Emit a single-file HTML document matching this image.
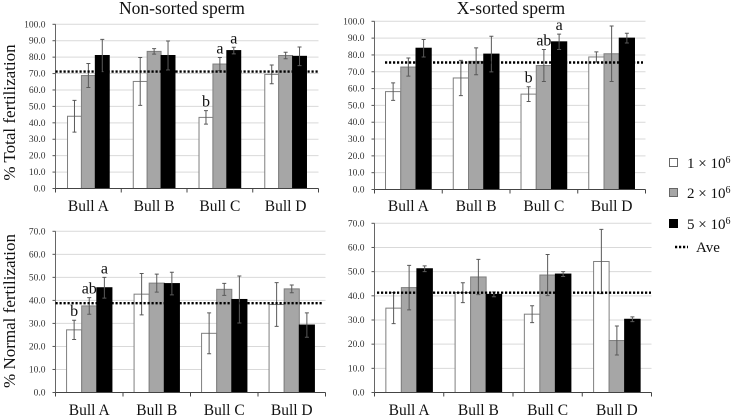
<!DOCTYPE html>
<html lang="en">
<head>
<meta charset="utf-8">
<title>Fertilization charts</title>
<style>
html,body{margin:0;padding:0;background:#fff;width:732px;height:417px;overflow:hidden}
svg{display:block;font-family:"Liberation Serif",serif}
</style>
</head>
<body>
<svg id="chart" width="732" height="417" viewBox="0 0 732 417" xmlns="http://www.w3.org/2000/svg">
  <text x="182" y="14" font-size="17.5" text-anchor="middle" fill="#111">Non-sorted sperm</text>
  <text x="511" y="14" font-size="17.5" text-anchor="middle" fill="#111">X-sorted sperm</text>
  <text transform="translate(15,112.5) rotate(-90)" font-size="17" text-anchor="middle" fill="#111">% Total fertilization</text>
  <text transform="translate(15,311) rotate(-90)" font-size="17" text-anchor="middle" fill="#111">% Normal fertilization</text>

  <g font-size="15" fill="#111">
    <g>
      <rect x="669.5" y="158.5" width="8" height="8" fill="#fff" stroke="#666"/>
      <text x="687" y="168">1 × 10<tspan dy="-5" font-size="10">6</tspan></text>
    </g>
    <g>
      <rect x="669.5" y="188.5" width="8" height="8" fill="#a6a6a6" stroke="#666"/>
      <text x="687" y="198">2 × 10<tspan dy="-5" font-size="10">6</tspan></text>
    </g>
    <g>
      <rect x="669.5" y="219.5" width="8" height="8" fill="#000" stroke="#000"/>
      <text x="687" y="229">5 × 10<tspan dy="-5" font-size="10">6</tspan></text>
    </g>
    <g>
      <line x1="675" y1="247" x2="688" y2="247" stroke="#000" stroke-width="2.4" stroke-dasharray="2.2 1.8"/>
      <text x="696" y="252">Ave</text>
    </g>
  </g>
</svg>
<script>
const categories = ['Bull A', 'Bull B', 'Bull C', 'Bull D'];
const seriesNames = ['1e6', '2e6', '5e6'];
const totalTicks = ['0.0', '10.0', '20.0', '30.0', '40.0', '50.0', '60.0', '70.0', '80.0', '90.0', '100.0'];
const normalTicks = ['0.0', '10.0', '20.0', '30.0', '40.0', '50.0', '60.0', '70.0'];

const nonSortedTotal1 = [44, 65.2, 43.3, 69.5];
const nonSortedTotal2 = [68.8, 83.5, 75.8, 81];
const nonSortedTotal5 = [81, 81, 84, 80.5];
const nonSortedTotalErr1 = [9.7, 14.6, 4.1, 5.7];
const nonSortedTotalErr2 = [7.3, 1.7, 4, 2];
const nonSortedTotalErr5 = [9.8, 8.8, 2, 5.7];
const nonSortedTotalAve = 71.2;

const xSortedTotal1 = [58.2, 66.3, 56.7, 78.8];
const xSortedTotal2 = [72.8, 76.2, 73.7, 80.7];
const xSortedTotal5 = [84, 80.5, 87.8, 90];
const xSortedTotalErr1 = [5.2, 10.5, 4.4, 3];
const xSortedTotalErr2 = [5.4, 8, 9.5, 16.5];
const xSortedTotalErr5 = [5.2, 10.6, 4.6, 2.9];
const xSortedTotalAve = 75.5;

const nonSortedNormal1 = [27.2, 42.7, 25.7, 38.2];
const nonSortedNormal2 = [37.6, 47.5, 44.8, 45];
const nonSortedNormal5 = [45.5, 47.3, 40.4, 29.3];
const nonSortedNormalErr1 = [4.2, 9, 8.9, 9.5];
const nonSortedNormalErr2 = [3.6, 3.9, 2.6, 1.7];
const nonSortedNormalErr5 = [4.5, 4.9, 10.2, 5.3];
const nonSortedNormalAve = 38.8;

const xSortedNormal1 = [34.9, 41.3, 32.4, 54.2];
const xSortedNormal2 = [43.4, 47.8, 48.6, 21.5];
const xSortedNormal5 = [51.2, 40.6, 49, 30.3];
const xSortedNormalErr1 = [6.4, 4.1, 3.5, 13.3];
const xSortedNormalErr2 = [9.2, 7.3, 8.5, 6];
const xSortedNormalErr5 = [1.2, 1, 1, 1];
const xSortedNormalAve = 41.3;

const nonSortedTotalLetters = [{cat: 2, ser: 0, text: 'b'}, {cat: 2, ser: 1, text: 'a'}, {cat: 2, ser: 2, text: 'a'}];
const xSortedTotalLetters = [{cat: 2, ser: 0, text: 'b'}, {cat: 2, ser: 1, text: 'ab'}, {cat: 2, ser: 2, text: 'a'}];
const nonSortedNormalLetters = [{cat: 0, ser: 0, text: 'b'}, {cat: 0, ser: 1, text: 'ab'}, {cat: 0, ser: 2, text: 'a'}];
const xSortedNormalLetters = [];

const SVG_NS = 'http://www.w3.org/2000/svg';
const root = document.getElementById('chart');
const fills = ['#ffffff', '#a6a6a6', '#000000'];
const strokes = ['#7f7f7f', '#7f7f7f', '#000000'];

function make(parent, tag, attrs, text) {
  const el = document.createElementNS(SVG_NS, tag);
  for (const k in attrs) el.setAttribute(k, attrs[k]);
  if (text !== undefined) el.textContent = text;
  parent.appendChild(el);
  return el;
}

function drawPanel(p) {
  const g = make(root, 'g', {});
  
  
  const catW = (p.x1 - p.x0) / categories.length;
  const barW = catW * p.barFrac;
  const maxV = parseFloat(p.ticks[p.ticks.length - 1]);
  const xScale = (c, s) => p.x0 + catW * c + (catW - 3 * barW) / 2 + s * barW;
  const yScale = v => p.y0 + (p.yTop - p.y0) * v / maxV;

  p.ticks.forEach(t => {
    const y = yScale(parseFloat(t));
    if (parseFloat(t) > 0) {
      const grid = make(g, 'line', {x1: p.x0, x2: p.x1, y1: y, y2: y, stroke: '#d9d9d9', 'stroke-width': 1});
      
      
    }
    const tick = make(g, 'line', {x1: p.x0 - 3, x2: p.x0, y1: y, y2: y, stroke: '#555', 'stroke-width': 1});
    
    
    const label = make(g, 'text', {x: p.x0 - 10, y: y + 3, 'font-size': 9.5, 'text-anchor': 'end', fill: '#333'}, t);
    
    
  });

  p.values.forEach((vals, s) => {
    vals.forEach((v, c) => {
      const bar = make(g, 'rect', {x: xScale(c, s), y: yScale(v), width: barW, height: p.y0 - yScale(v), fill: fills[s], stroke: strokes[s], 'stroke-width': 1});
      
      
    });
  });

  p.values.forEach((vals, s) => {
    vals.forEach((v, c) => {
      const cx = xScale(c, s) + barW / 2;
      const e = p.errors[s][c];
      const eb = make(g, 'path', {
        d: 'M' + cx + ' ' + yScale(v + e) + 'V' + yScale(v - e) +
           'M' + (cx - 2) + ' ' + yScale(v + e) + 'H' + (cx + 2) +
           'M' + (cx - 2) + ' ' + yScale(v - e) + 'H' + (cx + 2),
        fill: 'none', stroke: '#595959', 'stroke-width': 1
      });
      
      
    });
  });

  const axis = make(g, 'line', {x1: p.x0, x2: p.x1, y1: p.y0, y2: p.y0, stroke: '#444', 'stroke-width': 1});
  
  
  const yAxis = make(g, 'line', {x1: p.x0, x2: p.x0, y1: p.yTop, y2: p.y0, stroke: '#666', 'stroke-width': 1});
  
  

  for (let i = 0; i <= categories.length; i++) {
    const x = p.x0 + catW * i;
    const tick = make(g, 'line', {x1: x, x2: x, y1: p.y0, y2: p.y0 + 4, stroke: '#444', 'stroke-width': 1});
    
    
  }

  categories.forEach((name, c) => {
    const label = make(g, 'text', {x: p.x0 + catW * (c + 0.5), y: p.labelY, 'font-size': 15.5, 'text-anchor': 'middle', fill: '#111'}, name);
    
    
  });

  const ave = make(g, 'line', {x1: p.aveX0, x2: p.aveX1, y1: yScale(p.ave), y2: yScale(p.ave), stroke: '#000', 'stroke-width': 2.4, 'stroke-dasharray': '2.2 1.8'});
  
  

  p.letters.forEach(l => {
    const top = p.values[l.ser][l.cat] + p.errors[l.ser][l.cat];
    const letter = make(g, 'text', {x: xScale(l.cat, l.ser) + barW / 2, y: yScale(top) - 4, 'font-size': 16, 'text-anchor': 'middle', fill: '#111'}, l.text);
    
    
  });
}

drawPanel({
  name: 'non-sorted-total-chart', x0: 55.5, x1: 318.5, y0: 188.5, yTop: 24.3, barFrac: 0.2115, labelY: 211, aveX0: 55.5, aveX1: 318.5,
  ticks: totalTicks, ave: nonSortedTotalAve, letters: nonSortedTotalLetters,
  values: [nonSortedTotal1, nonSortedTotal2, nonSortedTotal5],
  errors: [nonSortedTotalErr1, nonSortedTotalErr2, nonSortedTotalErr5]
});
drawPanel({
  name: 'x-sorted-total-chart', x0: 374.5, x1: 645.5, y0: 189.5, yTop: 21.3, barFrac: 0.225, labelY: 211, aveX0: 385, aveX1: 643,
  ticks: totalTicks, ave: xSortedTotalAve, letters: xSortedTotalLetters,
  values: [xSortedTotal1, xSortedTotal2, xSortedTotal5],
  errors: [xSortedTotalErr1, xSortedTotalErr2, xSortedTotalErr5]
});
drawPanel({
  name: 'non-sorted-normal-chart', x0: 55.5, x1: 325.5, y0: 392.5, yTop: 231.3, barFrac: 0.224, labelY: 415, aveX0: 55.5, aveX1: 322,
  ticks: normalTicks, ave: nonSortedNormalAve, letters: nonSortedNormalLetters,
  values: [nonSortedNormal1, nonSortedNormal2, nonSortedNormal5],
  errors: [nonSortedNormalErr1, nonSortedNormalErr2, nonSortedNormalErr5]
});
drawPanel({
  name: 'x-sorted-normal-chart', x0: 374.5, x1: 651.5, y0: 392.5, yTop: 223.3, barFrac: 0.224, labelY: 415, aveX0: 377, aveX1: 651,
  ticks: normalTicks, ave: xSortedNormalAve, letters: xSortedNormalLetters,
  values: [xSortedNormal1, xSortedNormal2, xSortedNormal5],
  errors: [xSortedNormalErr1, xSortedNormalErr2, xSortedNormalErr5]
});
</script>
</body>
</html>
